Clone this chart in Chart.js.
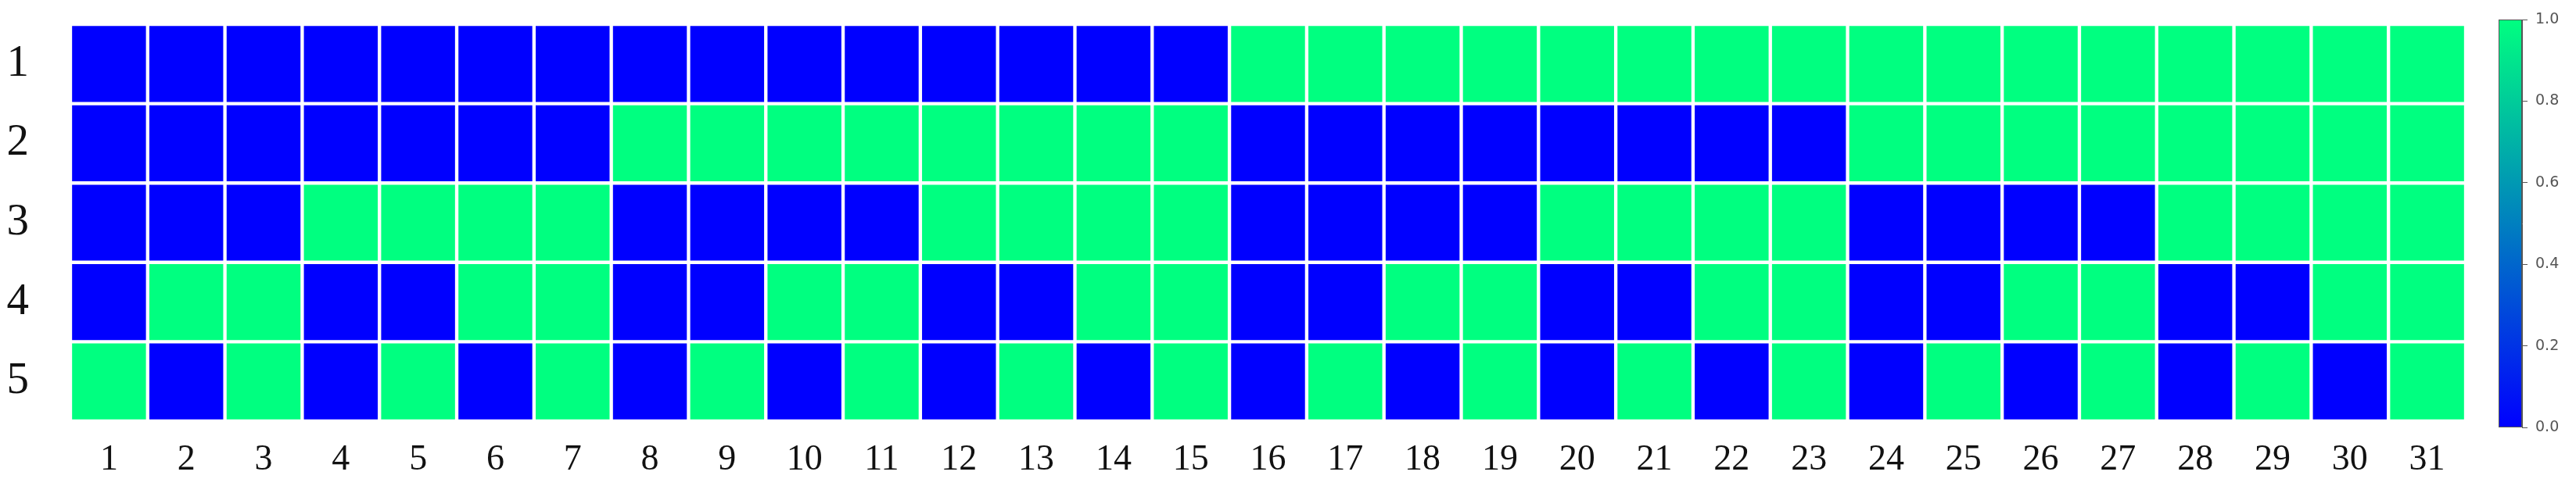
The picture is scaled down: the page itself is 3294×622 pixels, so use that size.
<!DOCTYPE html>
<html>
<head>
<meta charset="utf-8">
<script src="https://cdn.jsdelivr.net/npm/chart.js@4/dist/chart.umd.min.js"></script>
<style>
  html, body { margin: 0; padding: 0; background: #fff; }
  #wrap { width: 3294px; height: 622px; }
</style>
</head>
<body>
<div id="wrap"><canvas id="c" width="3294" height="622"></canvas></div>
<script>
// ---- data ----
const columnLabels = ['1','2','3','4','5','6','7','8','9','10','11','12','13','14','15','16','17','18','19','20','21','22','23','24','25','26','27','28','29','30','31'];
const rowLabels = ['1','2','3','4','5'];
const row1 = [0,0,0,0,0,0,0,0,0,0,0,0,0,0,0,1,1,1,1,1,1,1,1,1,1,1,1,1,1,1,1];
const row2 = [0,0,0,0,0,0,0,1,1,1,1,1,1,1,1,0,0,0,0,0,0,0,0,1,1,1,1,1,1,1,1];
const row3 = [0,0,0,1,1,1,1,0,0,0,0,1,1,1,1,0,0,0,0,1,1,1,1,0,0,0,0,1,1,1,1];
const row4 = [0,1,1,0,0,1,1,0,0,1,1,0,0,1,1,0,0,1,1,0,0,1,1,0,0,1,1,0,0,1,1];
const row5 = [1,0,1,0,1,0,1,0,1,0,1,0,1,0,1,0,1,0,1,0,1,0,1,0,1,0,1,0,1,0,1];
const colorbarTicks = [0, 0.2, 0.4, 0.6, 0.8, 1.0];

const rows = [row1, row2, row3, row4, row5];
const LOW = [0, 0, 255];
const HIGH = [0, 255, 128];
function winter(v) {
  const c = LOW.map((a, i) => Math.round(a + (HIGH[i] - a) * v));
  return `rgb(${c[0]},${c[1]},${c[2]})`;
}

const datasets = rows.map((r, i) => ({
  label: rowLabels[i],
  data: r.map(() => 1),
  backgroundColor: r.map(v => winter(v)),
  borderColor: '#ffffff',
  borderWidth: 2.5,
  borderSkipped: false,
  categoryPercentage: 1,
  barPercentage: 1,
  stack: 'grid'
}));

const colorbarPlugin = {
  id: 'colorbar',
  afterDraw(chart) {
    const s = chart.scales.cb;
    const ctx = chart.ctx;
    const x0 = s.left - 30, w = 30;
    const top = s.getPixelForValue(1), bot = s.getPixelForValue(0);
    const g = ctx.createLinearGradient(0, bot, 0, top);
    g.addColorStop(0, winter(0));
    g.addColorStop(1, winter(1));
    ctx.save();
    ctx.fillStyle = g;
    ctx.fillRect(x0, top, w, bot - top);
    ctx.strokeStyle = '#555';
    ctx.lineWidth = 1;
    ctx.strokeRect(x0 + 0.5, top + 0.5, w - 1, bot - top - 1);
    ctx.restore();
  }
};

function noPadV(s) { s.paddingTop = 0; s.paddingBottom = 0; }
function noPadH(s) { s.paddingLeft = 0; s.paddingRight = 0; }

new Chart(document.getElementById('c'), {
  type: 'bar',
  data: { labels: columnLabels, datasets },
  plugins: [colorbarPlugin],
  options: {
    responsive: false,
    animation: false,
    layout: { padding: { top: 25, bottom: 0, left: 0, right: 0 } },
    plugins: { legend: { display: false }, tooltip: { enabled: false } },
    scales: {
      x: {
        stacked: true,
        grid: { display: false, drawTicks: false },
        border: { display: false },
        ticks: { color: '#111', padding: 14, font: { family: 'Liberation Serif', size: 46, lineHeight: 1.2 }, maxRotation: 0, autoSkip: false },
        afterFit(s) { s.height = 75; noPadH(s); }
      },
      y: {
        type: 'linear',
        stacked: true,
        reverse: true,
        min: -0.06,
        max: 5.08,
        grid: { display: false, drawTicks: false },
        border: { display: false },
        afterBuildTicks(s) { s.ticks = rowLabels.map((l, i) => ({ value: i + 0.5 })); },
        ticks: {
          color: '#111', padding: 53,
          font: { family: 'Liberation Serif', size: 57, lineHeight: 1.2 },
          callback: (v, i) => rowLabels[i]
        },
        afterFit(s) { s.width = 90; noPadV(s); }
      },
      sp: {
        type: 'linear',
        position: 'right',
        weight: 0,
        display: true,
        grid: { display: false, drawTicks: false },
        border: { display: false },
        ticks: { display: false },
        afterFit(s) { s.width = 72; noPadV(s); }
      },
      cb: {
        type: 'linear',
        position: 'right',
        weight: 1,
        min: 0,
        max: 1,
        grid: { display: true, drawOnChartArea: false, drawTicks: true, tickLength: 7, color: '#555', lineWidth: 1 },
        border: { display: true, color: '#555', width: 1 },
        afterBuildTicks(s) { s.ticks = colorbarTicks.map(v => ({ value: v })); },
        ticks: {
          color: '#555', padding: 10,
          font: { family: 'DejaVu Sans', size: 19 },
          callback: (v) => Number(v).toFixed(1)
        },
        afterFit(s) { s.width = 69; noPadV(s); }
      }
    }
  }
});
</script>
</body>
</html>
